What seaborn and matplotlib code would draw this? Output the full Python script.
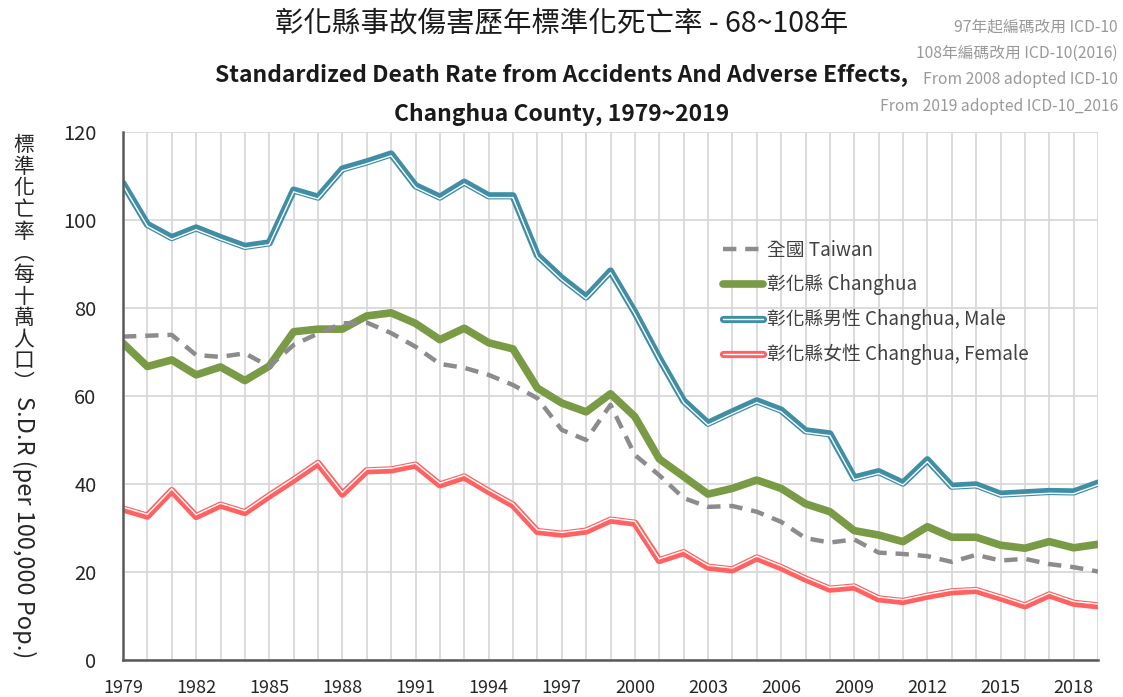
import numpy as np
import pandas as pd
import matplotlib
matplotlib.use("Agg")
import matplotlib.pyplot as plt
import matplotlib.transforms as mtransforms
from matplotlib.lines import Line2D
from matplotlib.legend_handler import HandlerTuple
import seaborn as sns

# years 1979 ~ 2019
years = list(range(1979, 2020))

taiwan = [73.5, 73.7, 73.9, 69.3, 68.9, 69.7, 66.7, 71.6, 74.2, 76.5, 76.7, 74.3, 71.2,
          67.3, 66.4, 64.8, 62.5, 59.5, 52.3, 50.0, 58.0, 46.6, 42.0, 36.8, 34.8, 35.0,
          33.7, 31.4, 27.7, 26.7, 27.4, 24.4, 24.1, 23.6, 22.3, 23.9, 22.6, 23.0, 21.8,
          21.1, 20.1]
changhua = [72.0, 66.7, 68.2, 64.8, 66.6, 63.5, 66.8, 74.6, 75.2, 75.2, 78.2, 78.9, 76.5,
            72.8, 75.4, 72.1, 70.7, 61.8, 58.4, 56.4, 60.5, 55.3, 45.7, 41.7, 37.7, 39.0,
            40.9, 39.0, 35.5, 33.7, 29.4, 28.4, 26.9, 30.3, 27.9, 27.9, 26.1, 25.4, 26.9,
            25.5, 26.3]
male = [108.3, 99.0, 96.0, 98.2, 96.0, 94.0, 94.8, 106.8, 105.2, 111.6, 113.2, 115.0, 107.8,
        105.2, 108.6, 105.5, 105.5, 92.0, 86.8, 82.5, 88.4, 79.0, 68.6, 58.9, 53.8, 56.4,
        58.9, 56.8, 52.1, 51.4, 41.4, 42.8, 40.2, 45.5, 39.5, 39.8, 37.7, 38.0, 38.3,
        38.2, 40.2]
female = [34.3, 32.7, 38.5, 32.6, 35.2, 33.5, 37.3, 40.9, 44.7, 37.7, 43.0, 43.2, 44.3,
          39.8, 41.6, 38.3, 35.2, 29.2, 28.6, 29.3, 31.8, 31.1, 22.6, 24.4, 21.1, 20.5,
          23.2, 21.0, 18.4, 16.1, 16.6, 13.9, 13.3, 14.5, 15.5, 15.8, 14.1, 12.3, 14.8,
          12.9, 12.3]

labels = ["全國 Taiwan", "彰化縣 Changhua", "彰化縣男性 Changhua, Male", "彰化縣女性 Changhua, Female"]
tick_years = list(range(1979, 2019, 3))

df = pd.DataFrame({"year": years, "taiwan": taiwan, "changhua": changhua,
                   "male": male, "female": female})

sns.set_style("whitegrid")
plt.rcParams['font.family'] = ['Noto Sans CJK TC', 'DejaVu Sans']

c_gray = "#8c8c8c"
c_green = "#7a9b45"
c_teal = "#3f8ea6"
c_red = "#ff6262"

fig = plt.figure(figsize=(11.23, 6.97), dpi=100)
ax = fig.add_axes([123 / 1123, 37 / 697, 975 / 1123, 528 / 697])

sns.lineplot(data=df, x="year", y="male", ax=ax, color=c_teal, linewidth=5.2)
sns.lineplot(data=df, x="year", y="female", ax=ax, color=c_red, linewidth=5.2)
sns.lineplot(data=df, x="year", y="changhua", ax=ax, color=c_green, linewidth=5.5)
sns.lineplot(data=df, x="year", y="taiwan", ax=ax, color=c_gray, linewidth=3.2,
             linestyle=(0, (3, 2)))

# white inner stripe for the double lines
down = mtransforms.offset_copy(ax.transData, fig=fig, x=0, y=-1.3, units="points")
up = mtransforms.offset_copy(ax.transData, fig=fig, x=0, y=1.3, units="points")
ax.plot(years, male, color="white", linewidth=1.0, transform=down)
ax.plot(years, female, color="white", linewidth=1.0, transform=up)

ax.set_xlim(1979, 2019)
ax.set_ylim(0, 120)
ax.set_xticks(years, minor=True)
ax.set_xticks(tick_years)
ax.set_yticks([0, 20, 40, 60, 80, 100, 120])
ax.grid(True, which="both", axis="x", color="#d9d9d9", linewidth=1.3)
ax.grid(True, which="major", axis="y", color="#d9d9d9", linewidth=1.3)
ax.set_xlabel("")
ax.set_ylabel("")

for side in ["top", "right"]:
    ax.spines[side].set_visible(False)
for side in ["left", "bottom"]:
    ax.spines[side].set_color("#595959")
    ax.spines[side].set_linewidth(1.8)

ax.tick_params(axis="both", which="both", direction="in", color="#595959", width=1.5)
ax.tick_params(axis="y", length=6, labelsize=14.5, labelcolor="#262626", pad=19)
ax.tick_params(axis="x", which="major", length=6, labelsize=13, labelcolor="#262626", pad=14)
ax.tick_params(axis="x", which="minor", length=6)

# legend
h_tw = Line2D([], [], color=c_gray, linewidth=3.2, linestyle=(0, (3, 2)))
h_ch = Line2D([], [], color=c_green, linewidth=5.5)
h_m = (Line2D([], [], color=c_teal, linewidth=5.2), Line2D([], [], color="white", linewidth=1.0))
h_f = (Line2D([], [], color=c_red, linewidth=5.2), Line2D([], [], color="white", linewidth=1.0))
leg = ax.legend([h_tw, h_ch, h_m, h_f], labels, handler_map={tuple: HandlerTuple(ndivide=1)},
                loc="upper left", bbox_to_anchor=(0.598, 0.828), frameon=False, fontsize=13.5,
                handlelength=2.15, handletextpad=0.2, labelspacing=0.73, labelcolor="#404040")

# titles
fig.text(0.5, 1 - 23 / 697, "彰化縣事故傷害歷年標準化死亡率 - 68~108年", ha="center", va="center",
         fontsize=20.5, color="#1a1a1a")
fig.text(0.5, 1 - 75 / 697, "Standardized Death Rate from Accidents And Adverse Effects,",
         ha="center", va="center", fontsize=16.5, fontweight="bold", color="#1a1a1a")
fig.text(0.5, 1 - 114 / 697, "Changhua County, 1979~2019", ha="center", va="center",
         fontsize=16.5, fontweight="bold", color="#1a1a1a")

notes = ["97年起編碼改用 ICD-10", "108年編碼改用 ICD-10(2016)",
         "From 2008 adopted ICD-10", "From 2019 adopted ICD-10_2016"]
for i, t in enumerate(notes):
    fig.text(1118 / 1123, 1 - (27 + 26.5 * i) / 697, t, ha="right", va="center",
             fontsize=11.3, color="#999999")

# y axis label: Chinese upright stacked, English rotated
zh = "標準化亡率︵每十萬人口︶"
fig.text(24 / 1123, 1 - 134 / 697, "\n".join(zh), ha="center", va="top",
         fontsize=15, color="#262626", linespacing=0.98)
fig.text(24 / 1123, 1 - 527 / 697, "S.D.R (per 100,000 Pop.)", ha="center", va="center",
         rotation=-90, fontsize=17, color="#262626")

fig.savefig("out.png", dpi=100)
